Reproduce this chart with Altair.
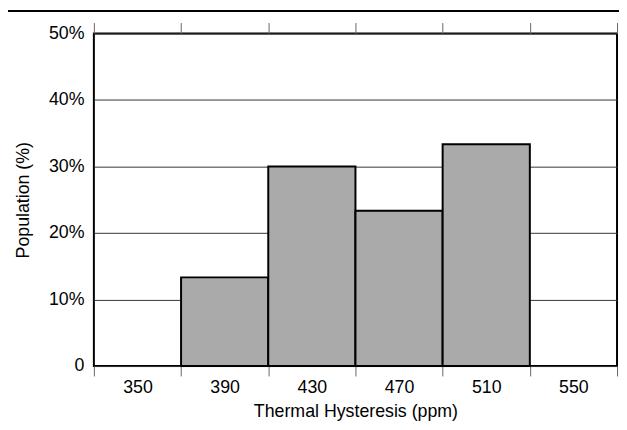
import altair as alt
import pandas as pd

# Data
bin_centers = [350, 390, 430, 470, 510, 550]
population = [0, 13.33, 30.0, 23.33, 33.33, 0]
bin_width = 40
edges = [330, 370, 410, 450, 490, 530, 570]
y_ticks = [0, 10, 20, 30, 40, 50]

df = pd.DataFrame({
    "center": bin_centers,
    "pop": population,
})
df["lo"] = df["center"] - bin_width / 2
df["hi"] = df["center"] + bin_width / 2

FONT = "Liberation Sans"
W, H = 530, 337

xscale = alt.Scale(domain=[330, 570], nice=False, zero=False)
yscale = alt.Scale(domain=[0, 50], nice=False)

bars = alt.Chart(df).transform_filter("datum.pop > 0").mark_bar(
    fill="#aaaaaa", stroke="black", strokeWidth=2
).encode(
    x=alt.X("lo:Q", scale=xscale,
            axis=alt.Axis(orient="bottom", values=edges, title="Thermal Hysteresis (ppm)",
                          labelExpr="datum.value >= 570 ? '' : '' + (datum.value + 20)",
                          labelOffset=W / 12, labelOverlap=False, labelFlush=False,
                          tickSize=10, tickColor="#666", labelPadding=3,
                          domain=False, grid=False, titlePadding=6)),
    x2="hi:Q",
    y=alt.Y("pop:Q", scale=yscale,
            axis=alt.Axis(values=y_ticks, title="Population (%)",
                          labelExpr="datum.value == 0 ? '0' : datum.value + '%'",
                          ticks=False, domain=False, grid=True,
                          gridColor="#333", gridWidth=1,
                          labelPadding=10, titlePadding=16)),
    y2=alt.datum(0),
)

top_axis = alt.Chart(df).mark_rule(opacity=0).encode(
    x=alt.X("lo:Q", scale=xscale,
            axis=alt.Axis(orient="top", values=edges, title=None, labels=False,
                          tickSize=11, tickColor="#666", domain=False, grid=False)),
)

top_line = alt.Chart(df).mark_rule(color="black", strokeWidth=1.5).encode(
    x=alt.value(-87), x2=alt.value(W + 2), y=alt.value(-22.5)
)

chart = alt.layer(bars, top_axis, top_line).resolve_axis(x="independent").properties(
    width=W, height=H,
    autosize=alt.AutoSizeParams(type="none"),
    padding={"left": 87, "top": 23, "right": 2, "bottom": 60},
).configure_view(
    stroke="black", strokeWidth=2
).configure_axis(
    labelFont=FONT, titleFont=FONT, labelFontSize=18, titleFontSize=18,
    labelColor="black", titleColor="black", titleFontWeight="normal",
)

chart.save("out.html", embed_options={"renderer": "svg", "actions": False})
